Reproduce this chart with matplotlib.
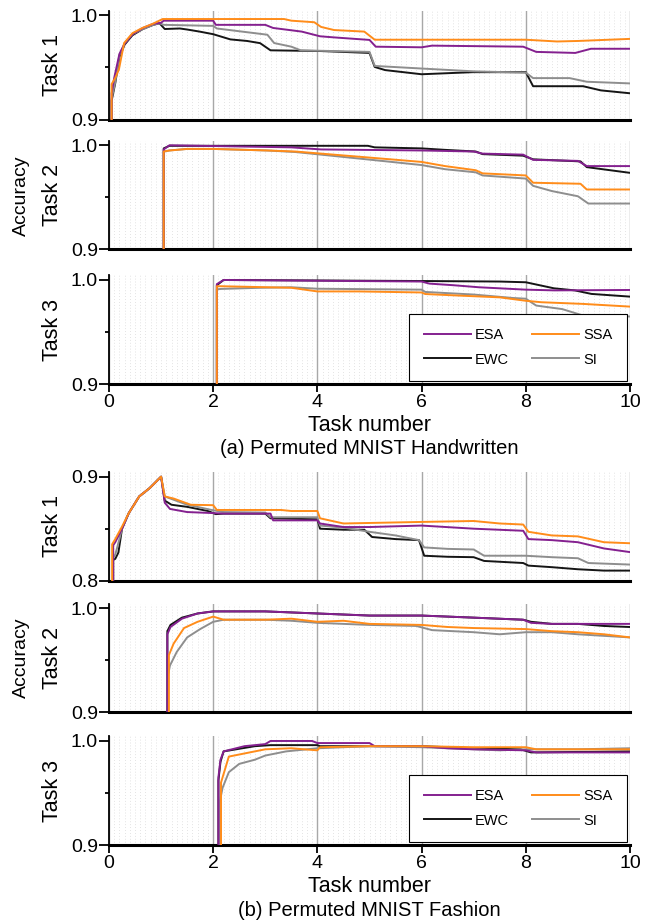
import numpy as np
import matplotlib.pyplot as plt

plt.rcParams['font.family'] = ['Liberation Sans', 'DejaVu Sans']

# ---- (a) Permuted MNIST Handwritten, Task 1 ----
a1_esa_x = [0.05, 0.05, 0.1, 0.2, 0.3, 0.45, 0.65, 0.85, 1.0, 1.05, 2.0, 2.05, 3.0, 3.15, 3.7, 4.05, 4.3, 5.0, 5.12, 6.0, 6.2, 7.95, 8.2, 8.95, 9.25, 10.0]
a1_esa_y = [0.9, 0.925, 0.94, 0.963, 0.973, 0.982, 0.988, 0.992, 0.993, 0.995, 0.995, 0.991, 0.991, 0.988, 0.9845, 0.980, 0.979, 0.9765, 0.970, 0.9694, 0.971, 0.970, 0.965, 0.964, 0.968, 0.968]
a1_ssa_x = [0.05, 0.05, 0.12, 0.19, 0.29, 0.45, 0.64, 0.84, 1.03, 3.36, 3.5, 3.94, 4.07, 4.32, 4.9, 5.1, 8.0, 8.6, 9.0, 10.0]
a1_ssa_y = [0.9, 0.934, 0.94, 0.948, 0.9735, 0.983, 0.988, 0.992, 0.9966, 0.9966, 0.995, 0.9935, 0.989, 0.986, 0.9845, 0.9767, 0.9767, 0.975, 0.9755, 0.9775]
a1_ewc_x = [0.05, 0.05, 0.12, 0.2, 0.3, 0.45, 0.65, 0.85, 0.97, 1.07, 1.36, 1.5, 1.74, 2.0, 2.33, 2.65, 2.9, 3.1, 4.07, 5.0, 5.1, 5.3, 6.0, 6.98, 8.0, 8.14, 9.1, 9.44, 10.0]
a1_ewc_y = [0.9, 0.918, 0.935, 0.96, 0.972, 0.981, 0.987, 0.991, 0.9925, 0.987, 0.9875, 0.9865, 0.9845, 0.982, 0.977, 0.9755, 0.9734, 0.9665, 0.9658, 0.964, 0.9505, 0.9475, 0.9435, 0.9455, 0.9455, 0.932, 0.932, 0.928, 0.9252]
a1_si_x = [0.05, 0.05, 0.12, 0.2, 0.3, 0.45, 0.65, 0.85, 0.97, 1.05, 2.0, 2.07, 3.04, 3.17, 3.5, 3.68, 5.0, 5.1, 6.0, 7.0, 8.0, 8.14, 8.84, 9.17, 10.0]
a1_si_y = [0.9, 0.92, 0.936, 0.962, 0.973, 0.982, 0.987, 0.991, 0.9925, 0.991, 0.990, 0.9875, 0.9815, 0.9735, 0.970, 0.9665, 0.965, 0.9515, 0.949, 0.9463, 0.945, 0.9398, 0.9398, 0.9363, 0.9347]

# ---- (a) Task 2 ----
a2_esa_x = [1.05, 1.05, 1.16, 3.5, 4.07, 6.0, 7.0, 7.17, 7.95, 8.14, 9.0, 9.17, 10.0]
a2_esa_y = [0.9, 0.996, 1.0, 0.998, 0.996, 0.995, 0.994, 0.992, 0.991, 0.986, 0.985, 0.980, 0.980]
a2_ssa_x = [1.05, 1.05, 1.16, 1.5, 2.0, 3.04, 3.58, 4.07, 5.04, 6.0, 6.45, 7.04, 7.17, 8.0, 8.14, 9.05, 9.17, 10.0]
a2_ssa_y = [0.9, 0.994, 0.995, 0.9965, 0.9965, 0.995, 0.994, 0.992, 0.988, 0.984, 0.980, 0.976, 0.973, 0.971, 0.964, 0.963, 0.9575, 0.9575]
a2_ewc_x = [1.05, 1.05, 1.16, 4.97, 5.1, 6.0, 6.45, 7.04, 7.17, 7.95, 8.14, 9.05, 9.17, 10.0]
a2_ewc_y = [0.9, 0.997, 0.9995, 0.9995, 0.998, 0.997, 0.9956, 0.994, 0.9915, 0.990, 0.9865, 0.9845, 0.979, 0.9735]
a2_si_x = [1.05, 1.05, 1.16, 1.5, 2.0, 3.04, 3.58, 4.07, 5.04, 6.0, 6.45, 7.04, 7.17, 8.0, 8.14, 8.5, 9.0, 9.2, 10.0]
a2_si_y = [0.9, 0.994, 0.995, 0.9965, 0.9965, 0.995, 0.9935, 0.991, 0.986, 0.981, 0.977, 0.974, 0.971, 0.968, 0.961, 0.956, 0.951, 0.944, 0.944]

# ---- (a) Task 3 ----
a3_esa_x = [2.07, 2.07, 2.2, 6.0, 6.15, 6.6, 7.1, 8.0, 8.55, 10.0]
a3_esa_y = [0.9, 0.996, 1.0, 0.9985, 0.9965, 0.995, 0.993, 0.9907, 0.990, 0.9904]
a3_ssa_x = [2.07, 2.07, 2.15, 3.5, 4.0, 4.78, 6.0, 6.07, 6.72, 7.5, 8.0, 8.3, 9.1, 10.0]
a3_ssa_y = [0.9, 0.994, 0.994, 0.9925, 0.989, 0.989, 0.988, 0.9865, 0.985, 0.9833, 0.980, 0.9786, 0.977, 0.9744]
a3_ewc_x = [2.07, 2.07, 2.2, 6.0, 7.5, 8.0, 8.54, 8.94, 9.26, 10.0]
a3_ewc_y = [0.9, 0.995, 1.0, 0.999, 0.9985, 0.9978, 0.992, 0.990, 0.9866, 0.984]
a3_si_x = [2.07, 2.07, 2.15, 2.9, 3.5, 4.0, 6.0, 6.07, 7.0, 7.75, 8.0, 8.2, 8.7, 9.1, 10.0]
a3_si_y = [0.9, 0.991, 0.9914, 0.9925, 0.993, 0.9916, 0.9907, 0.9885, 0.986, 0.9827, 0.982, 0.9754, 0.972, 0.9658, 0.9649]

# ---- (b) Permuted MNIST Fashion, Task 1 ----
b1_esa_x = [0.08, 0.08, 0.12, 0.25, 0.38, 0.58, 0.78, 0.98, 1.0, 1.07, 1.17, 1.5, 2.0, 2.2, 3.1, 3.15, 4.0, 4.05, 4.5, 5.0, 6.0, 7.0, 7.95, 8.05, 8.5, 9.0, 9.5, 10.0]
b1_esa_y = [0.8, 0.834, 0.837, 0.85, 0.865, 0.881, 0.889, 0.899, 0.9, 0.875, 0.869, 0.866, 0.865, 0.8645, 0.8645, 0.858, 0.858, 0.855, 0.8516, 0.8516, 0.853, 0.850, 0.848, 0.840, 0.839, 0.837, 0.831, 0.8275]
b1_ssa_x = [0.06, 0.06, 0.12, 0.25, 0.38, 0.58, 0.78, 0.98, 1.0, 1.07, 1.24, 1.57, 2.0, 2.07, 3.3, 3.5, 4.0, 4.05, 4.5, 5.0, 6.0, 7.0, 7.5, 7.95, 8.05, 8.5, 9.0, 9.5, 10.0]
b1_ssa_y = [0.8, 0.835, 0.84, 0.852, 0.865, 0.881, 0.889, 0.899, 0.9, 0.881, 0.879, 0.873, 0.8726, 0.868, 0.868, 0.867, 0.867, 0.860, 0.855, 0.8555, 0.8565, 0.8574, 0.855, 0.854, 0.847, 0.8435, 0.8426, 0.837, 0.836]
b1_ewc_x = [0.08, 0.08, 0.12, 0.18, 0.25, 0.38, 0.58, 0.78, 0.98, 1.0, 1.07, 1.2, 1.5, 1.9, 2.05, 2.2, 3.0, 3.1, 4.0, 4.05, 4.5, 4.9, 5.05, 5.5, 5.95, 6.05, 6.5, 7.0, 7.2, 7.95, 8.05, 8.5, 9.0, 9.5, 10.0]
b1_ewc_y = [0.8, 0.82, 0.821, 0.827, 0.85, 0.865, 0.881, 0.889, 0.899, 0.9, 0.877, 0.873, 0.871, 0.867, 0.864, 0.8645, 0.8645, 0.860, 0.859, 0.850, 0.849, 0.849, 0.842, 0.840, 0.839, 0.824, 0.823, 0.8226, 0.819, 0.817, 0.8145, 0.813, 0.811, 0.8097, 0.8097]
b1_si_x = [0.08, 0.08, 0.12, 0.2, 0.25, 0.38, 0.58, 0.78, 0.98, 1.0, 1.07, 1.5, 2.0, 2.2, 3.0, 3.1, 4.0, 4.05, 4.5, 5.0, 5.5, 5.95, 6.05, 6.5, 7.0, 7.2, 8.0, 8.5, 9.0, 9.2, 10.0]
b1_si_y = [0.8, 0.822, 0.825, 0.84, 0.85, 0.865, 0.881, 0.889, 0.899, 0.9, 0.881, 0.873, 0.8677, 0.866, 0.8655, 0.861, 0.861, 0.853, 0.851, 0.847, 0.8435, 0.839, 0.832, 0.8306, 0.83, 0.824, 0.824, 0.8226, 0.8216, 0.817, 0.8155]

# ---- (b) Task 2 ----
b2_esa_x = [1.12, 1.12, 1.18, 1.4, 1.7, 2.0, 3.0, 3.5, 4.0, 5.0, 6.0, 7.0, 7.95, 8.1, 8.5, 9.0, 10.0]
b2_esa_y = [0.9, 0.975, 0.982, 0.99, 0.995, 0.997, 0.997, 0.996, 0.995, 0.993, 0.993, 0.991, 0.989, 0.986, 0.985, 0.985, 0.985]
b2_ssa_x = [1.15, 1.15, 1.24, 1.44, 1.7, 2.0, 2.2, 3.0, 3.5, 4.0, 4.5, 5.0, 6.0, 6.5, 7.0, 8.0, 8.5, 9.0, 9.5, 10.0]
b2_ssa_y = [0.9, 0.955, 0.966, 0.981, 0.987, 0.992, 0.989, 0.989, 0.990, 0.987, 0.988, 0.985, 0.984, 0.982, 0.981, 0.980, 0.978, 0.977, 0.975, 0.972]
b2_ewc_x = [1.12, 1.12, 1.18, 1.4, 1.7, 2.0, 3.0, 3.5, 4.0, 5.0, 6.0, 7.0, 7.95, 8.1, 8.5, 9.0, 9.5, 10.0]
b2_ewc_y = [0.9, 0.978, 0.984, 0.991, 0.995, 0.997, 0.997, 0.996, 0.995, 0.993, 0.993, 0.991, 0.989, 0.987, 0.985, 0.985, 0.983, 0.982]
b2_si_x = [1.13, 1.13, 1.17, 1.3, 1.5, 1.75, 2.0, 2.2, 3.0, 3.5, 4.0, 5.0, 5.9, 6.2, 7.0, 7.5, 8.0, 8.5, 9.0, 10.0]
b2_si_y = [0.9, 0.935, 0.945, 0.958, 0.972, 0.98, 0.987, 0.989, 0.989, 0.988, 0.986, 0.984, 0.983, 0.979, 0.977, 0.975, 0.977, 0.977, 0.975, 0.972]

# ---- (b) Task 3 ----
b3_esa_x = [2.1, 2.1, 2.14, 2.2, 2.6, 3.0, 3.1, 3.9, 4.0, 5.0, 5.1, 6.0, 6.5, 7.0, 8.0, 8.2, 10.0]
b3_esa_y = [0.9, 0.965, 0.982, 0.99, 0.995, 0.997, 1.0, 1.0, 0.998, 0.998, 0.995, 0.995, 0.993, 0.992, 0.991, 0.989, 0.989]
b3_ssa_x = [2.15, 2.15, 2.3, 2.5, 3.0, 3.5, 4.0, 4.05, 5.0, 6.0, 7.0, 8.0, 8.2, 9.0, 10.0]
b3_ssa_y = [0.9, 0.96, 0.985, 0.987, 0.992, 0.993, 0.991, 0.994, 0.995, 0.995, 0.994, 0.994, 0.992, 0.992, 0.992]
b3_ewc_x = [2.1, 2.1, 2.14, 2.2, 2.8, 3.1, 4.0, 4.05, 5.2, 6.0, 7.0, 7.9, 8.1, 10.0]
b3_ewc_y = [0.9, 0.962, 0.98, 0.99, 0.995, 0.996, 0.996, 0.995, 0.995, 0.995, 0.993, 0.992, 0.989, 0.990]
b3_si_x = [2.12, 2.12, 2.18, 2.3, 2.5, 2.8, 3.0, 3.4, 4.0, 5.0, 6.0, 7.0, 7.5, 8.0, 9.0, 10.0]
b3_si_y = [0.9, 0.94, 0.955, 0.97, 0.978, 0.982, 0.986, 0.99, 0.993, 0.995, 0.994, 0.992, 0.991, 0.992, 0.992, 0.993]

methods = ['EWC', 'SI', 'ESA', 'SSA']
colors = {'ESA': '#84208f', 'SSA': '#ff8c1a', 'EWC': '#151515', 'SI': '#8e8e8e'}

panels = [
    # (ylow, bottom px, ylabel, series)
    (0.9, 119.5, 'Task 1', {'ESA': (a1_esa_x, a1_esa_y), 'SSA': (a1_ssa_x, a1_ssa_y),
                            'EWC': (a1_ewc_x, a1_ewc_y), 'SI': (a1_si_x, a1_si_y)}),
    (0.9, 249.3, 'Task 2', {'ESA': (a2_esa_x, a2_esa_y), 'SSA': (a2_ssa_x, a2_ssa_y),
                            'EWC': (a2_ewc_x, a2_ewc_y), 'SI': (a2_si_x, a2_si_y)}),
    (0.9, 384.0, 'Task 3', {'ESA': (a3_esa_x, a3_esa_y), 'SSA': (a3_ssa_x, a3_ssa_y),
                            'EWC': (a3_ewc_x, a3_ewc_y), 'SI': (a3_si_x, a3_si_y)}),
    (0.8, 580.7, 'Task 1', {'ESA': (b1_esa_x, b1_esa_y), 'SSA': (b1_ssa_x, b1_ssa_y),
                            'EWC': (b1_ewc_x, b1_ewc_y), 'SI': (b1_si_x, b1_si_y)}),
    (0.9, 712.3, 'Task 2', {'ESA': (b2_esa_x, b2_esa_y), 'SSA': (b2_ssa_x, b2_ssa_y),
                            'EWC': (b2_ewc_x, b2_ewc_y), 'SI': (b2_si_x, b2_si_y)}),
    (0.9, 845.0, 'Task 3', {'ESA': (b3_esa_x, b3_esa_y), 'SSA': (b3_ssa_x, b3_ssa_y),
                            'EWC': (b3_ewc_x, b3_ewc_y), 'SI': (b3_si_x, b3_si_y)}),
]

W, H = 652.0, 921.0
fig = plt.figure(figsize=(W / 100, H / 100), dpi=100)
left_px, right_px = 109.0, 630.0
h_px = 108.7

for i, (ylo, bot, ylab, series) in enumerate(panels):
    ax = fig.add_axes([left_px / W, 1 - bot / H, (right_px - left_px) / W, h_px / H])
    for m in methods:
        x, y = series[m]
        ax.plot(x, y, color=colors[m], lw=1.4, label=m, zorder=3)
    ax.set_xlim(0, 10)
    ax.set_ylim(ylo, ylo + 0.1045)
    ax.set_xticks(np.arange(0, 10.1, 2))
    ax.set_xticks(np.arange(0, 10.01, 0.1), minor=True)
    # light dotted minor grid, gray solid major grid
    ax.grid(which='minor', axis='x', color='#dadada', ls=(0, (1, 2.5)), lw=0.6)
    ax.grid(which='major', axis='x', color='#a8a8a8', ls='-', lw=1.0)
    ax.set_yticks([ylo, ylo + 0.1])
    ax.set_yticklabels(['%.1f' % ylo, '%.1f' % (ylo + 0.1)])
    ax.set_yticks([ylo + 0.05], minor=True)
    ax.tick_params(axis='y', which='major', length=7, width=1.3, pad=1, labelsize=14)
    ax.tick_params(axis='y', which='minor', length=3, width=1.3)
    ax.tick_params(axis='x', which='minor', length=0)
    for s in ['top', 'right']:
        ax.spines[s].set_visible(False)
    ax.spines['left'].set_linewidth(1.3)
    ax.spines['bottom'].set_linewidth(2.2)
    ax.set_axisbelow(True)

    if i % 3 == 2:
        ax.tick_params(axis='x', which='major', length=5.5, width=1.3, pad=2, labelsize=14)
        ax.set_xticklabels(['0', '2', '4', '6', '8', '10'])
        handles, labels = ax.get_legend_handles_labels()
        order = [labels.index(k) for k in ['ESA', 'EWC', 'SSA', 'SI']]
        leg = ax.legend([handles[k] for k in order], [labels[k] for k in order],
                        ncol=2, loc='lower right', bbox_to_anchor=(1.0, 0.0),
                        fontsize=10.5, frameon=True, fancybox=False, framealpha=1,
                        edgecolor='black', borderpad=1.0, handlelength=3.2,
                        handletextpad=0.3, columnspacing=1.6, labelspacing=0.7,
                        borderaxespad=0.2)
        leg.get_frame().set_linewidth(0.8)
    else:
        ax.tick_params(axis='x', which='major', length=0, labelbottom=False)

    fig.text(53 / W, 1 - (bot - h_px / 2) / H, ylab, rotation=90, fontsize=15.5,
             ha='center', va='center')

cx = (left_px + right_px) / 2 / W
fig.text(21 / W, 1 - 196 / H, 'Accuracy', rotation=90, fontsize=14, ha='center', va='center')
fig.text(21 / W, 1 - 658 / H, 'Accuracy', rotation=90, fontsize=14, ha='center', va='center')
fig.text(cx, 1 - 425 / H, 'Task number', fontsize=15.5, ha='center', va='center')
fig.text(cx, 1 - 886.7 / H, 'Task number', fontsize=15.5, ha='center', va='center')
fig.text(cx, 1 - 448.5 / H, '(a) Permuted MNIST Handwritten', fontsize=14.5, ha='center', va='center')
fig.text(cx, 1 - 910 / H, '(b) Permuted MNIST Fashion', fontsize=14.5, ha='center', va='center')

fig.savefig('out.png', dpi=100, facecolor='white')
